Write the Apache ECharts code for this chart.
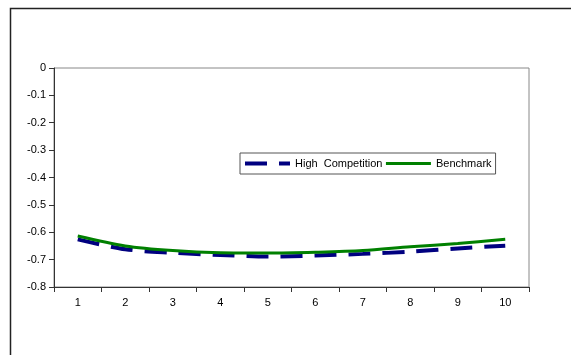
<!DOCTYPE html>
<html><head><meta charset="utf-8">
<script src="https://cdn.jsdelivr.net/npm/echarts@6/dist/echarts.min.js"></script>
<style>html,body{margin:0;padding:0;background:#fff}#c{width:571px;height:355px}</style>
</head><body><div id="c"></div>
<script>
const categories = ['1','2','3','4','5','6','7','8','9','10'];
const highCompetition = [-0.626,-0.662,-0.675,-0.683,-0.689,-0.685,-0.679,-0.671,-0.659,-0.649];
const benchmark = [-0.614,-0.650,-0.667,-0.675,-0.676,-0.673,-0.667,-0.653,-0.641,-0.626];
const yTicks = {min:-0.8, max:0, interval:0.1};
const font = 'Liberation Sans, Arial, sans-serif';
const chart = echarts.init(document.getElementById('c'), null, {renderer:'canvas'});
chart.setOption({
  animation:false,
  backgroundColor:'#fff',
  graphic:[{type:'rect', shape:{x:10.5,y:8.5,width:700,height:500}, style:{fill:'none',stroke:'#222',lineWidth:1.5}, silent:true}],
  grid:{left:54,top:68,width:475,height:219,show:true,borderColor:'#888',borderWidth:1,backgroundColor:'transparent'},
  legend:{
    left:240, top:153, orient:'horizontal',
    data:[
      {name:'High  Competition', lineStyle:{width:4,type:[22,12],color:'#000080'}},
      {name:'Benchmark', lineStyle:{width:3,color:'#008000'}}
    ],
    itemWidth:45, itemHeight:10, itemGap:2,
    itemStyle:{opacity:0},
    borderColor:'#555', borderWidth:1, padding:[5,4,5,3],
    textStyle:{fontFamily:font,fontSize:11,color:'#000'}
  },
  xAxis:{type:'category',data:categories,boundaryGap:true,
    axisLine:{onZero:false,lineStyle:{color:'#333',width:1}},
    axisTick:{show:true,inside:false,length:5,lineStyle:{color:'#333'}},
    axisLabel:{fontFamily:font,fontSize:11,color:'#000',margin:10},
    splitLine:{show:false}},
  yAxis:{type:'value',min:yTicks.min,max:yTicks.max,interval:yTicks.interval,
    axisLine:{show:true,onZero:false,lineStyle:{color:'#333',width:1}},
    axisTick:{show:true,inside:false,length:5,lineStyle:{color:'#333'}},
    axisLabel:{fontFamily:font,fontSize:11,color:'#000',margin:8,formatter:v=>String(Math.round(v*10)/10)},
    splitLine:{show:false}},
  series:[
    {name:'High  Competition',type:'line',data:highCompetition,symbol:'none',smooth:0.3,
     lineStyle:{color:'#000080',width:4,type:[22,12]},itemStyle:{color:'#000080'}},
    {name:'Benchmark',type:'line',data:benchmark,symbol:'none',smooth:0.3,
     lineStyle:{color:'#008000',width:3},itemStyle:{color:'#008000'}}
  ]
});
</script></body></html>
